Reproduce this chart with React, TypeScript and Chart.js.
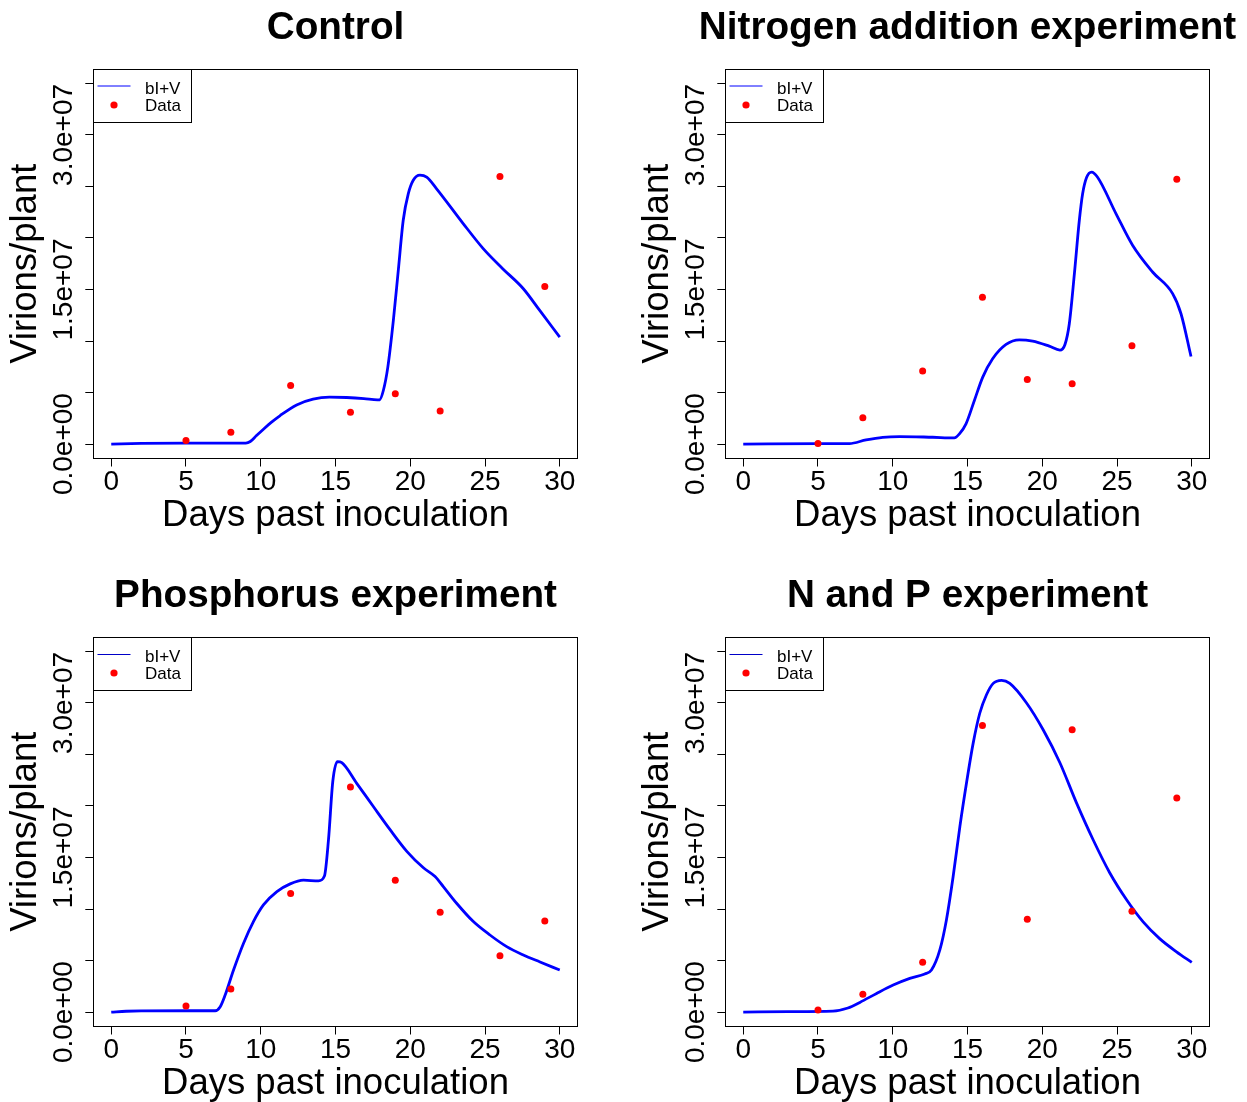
import React, { useEffect, useRef } from 'react';
import { Chart, registerables } from 'chart.js';

Chart.register(...registerables);

// ---- shared axis data ----
const dataDays = [5, 8, 12, 16, 19, 22, 26, 29];
const xTicks = [0, 5, 10, 15, 20, 25, 30];
const yTicks = [0, 5e6, 1e7, 1.5e7, 2e7, 2.5e7, 3e7, 3.5e7];
const yLabelValues = [0, 1.5e7, 3e7];
const yLabelTexts = ['0.0e+00', '1.5e+07', '3.0e+07'];
const panelTitles = ['Control', 'Nitrogen addition experiment', 'Phosphorus experiment', 'N and P experiment'];
const legendLabels = ['bI+V', 'Data'];
const xAxisTitle = 'Days past inoculation';
const yAxisTitle = 'Virions/plant';

// ---- Control (millions) ----
const controlModelX = [0, 2, 5, 8, 9, 9.3, 9.7, 10.2, 10.7, 11.3, 12.4, 13.5, 14.6, 15.75, 16.9, 17.8, 17.95, 18.2, 18.5, 18.87, 19.2, 19.53, 19.87, 20.2, 20.65, 21.1, 21.75, 23.54, 24.88, 26.2, 27.55, 28.66, 30];
const controlModelY = [0, 0.06, 0.1, 0.1, 0.1, 0.25, 0.8, 1.47, 2.1, 2.77, 3.8, 4.36, 4.55, 4.52, 4.42, 4.29, 4.3, 5.2, 7.47, 12.0, 16.86, 21.72, 24.3, 25.6, 26.1, 25.9, 24.8, 21.4, 18.97, 17.0, 15.1, 12.97, 10.38];
const controlData = [0.34, 1.15, 5.69, 3.09, 4.88, 3.22, 25.97, 15.3];

// ---- Nitrogen addition (millions) ----
const nitrogenModelX = [0, 5, 7.1, 8.22, 9.33, 10.45, 12.67, 14.12, 14.46, 14.9, 15.46, 16.02, 16.68, 17.58, 18.47, 19.36, 20.47, 21.18, 21.52, 21.81, 22.15, 22.48, 22.7, 22.97, 23.3, 23.7, 24.93, 26.04, 27.38, 28.72, 29.28, 29.95];
const nitrogenModelY = [0, 0.05, 0.05, 0.41, 0.66, 0.73, 0.66, 0.6, 0.99, 1.96, 4.23, 6.5, 8.28, 9.67, 10.12, 9.99, 9.5, 9.12, 9.67, 11.68, 16.54, 21.72, 24.3, 25.9, 26.4, 25.9, 22.37, 19.3, 16.7, 14.6, 12.65, 8.5];
const nitrogenData = [0.05, 2.55, 7.08, 14.24, 6.27, 5.85, 9.54, 25.7];

// ---- Phosphorus (millions) ----
const phosphorusModelX = [0, 1, 2, 5.3, 6.95, 7.29, 7.62, 8.18, 8.85, 9.51, 10.18, 11.08, 11.97, 12.86, 13.86, 14.26, 14.53, 14.82, 15.13, 15.42, 16.42, 17.53, 18.65, 19.77, 20.88, 21.66, 22.21, 23.1, 24.22, 25.33, 26.45, 27.56, 28.68, 30];
const phosphorusModelY = [0, 0.08, 0.12, 0.13, 0.13, 0.52, 1.65, 4.08, 6.68, 8.78, 10.4, 11.69, 12.44, 12.8, 12.73, 13.2, 16.7, 22.4, 24.3, 24.2, 22.2, 19.95, 17.7, 15.6, 14.0, 13.15, 12.18, 10.56, 8.78, 7.48, 6.35, 5.54, 4.86, 4.08];
const phosphorusData = [0.58, 2.24, 11.5, 21.84, 12.8, 9.69, 5.47, 8.84];

// ---- N and P (millions) ----
const npModelX = [0, 3, 6, 7.0, 7.8, 8.92, 10.03, 11.14, 12.14, 12.59, 13.15, 13.59, 14.04, 14.49, 14.93, 15.38, 15.82, 16.27, 16.72, 17.28, 17.83, 18.95, 20.06, 21.18, 22.29, 23.41, 24.52, 25.64, 26.75, 27.87, 28.98, 30];
const npModelY = [0, 0.05, 0.1, 0.4, 0.94, 1.81, 2.62, 3.27, 3.69, 4.08, 6.03, 8.94, 13.15, 18.0, 22.2, 26.1, 29.0, 30.8, 31.9, 32.2, 31.9, 30.0, 27.4, 24.2, 20.3, 16.7, 13.5, 10.9, 8.75, 7.1, 5.85, 4.83];
const npData = [0.19, 1.72, 4.83, 27.8, 9.0, 27.4, 9.79, 20.77];

const FONT = '"Liberation Sans", Arial, Helvetica, sans-serif';
const CW = 615;
const CH = 534;

type PanelProps = {
  title: string;
  modelX: number[];
  modelY: number[];
  dataY: number[];
  left: number;
  top: number;
  crispLegend: boolean;
};

function Panel({ title, modelX, modelY, dataY, left, top, crispLegend }: PanelProps) {
  const ref = useRef<HTMLCanvasElement | null>(null);

  useEffect(() => {
    const canvas = ref.current;
    if (!canvas) return;

    const decorPlugin = {
      id: 'rDecor',
      afterDraw(chart: any) {
        const ctx = chart.ctx as CanvasRenderingContext2D;
        const ca = chart.chartArea;
        const xs = chart.scales.x;
        const ys = chart.scales.y;
        ctx.save();
        // frame
        const bl = Math.floor(ca.left) + 0.5;
        const br = Math.floor(ca.right) + 0.5;
        const bt = Math.floor(ca.top) + 0.5;
        const bb = Math.floor(ca.bottom) + 0.5;
        ctx.strokeStyle = '#000';
        ctx.lineWidth = 1;
        ctx.strokeRect(bl, bt, br - bl, bb - bt);

        ctx.fillStyle = '#000';
        // title
        ctx.font = `bold 38.7px ${FONT}`;
        ctx.textAlign = 'center';
        ctx.textBaseline = 'alphabetic';
        const cx = (ca.left + ca.right) / 2;
        ctx.fillText(title, cx, 39);

        // x tick labels
        ctx.font = `28px ${FONT}`;
        xs.ticks.forEach((t: any) => {
          ctx.fillText(String(t.value), xs.getPixelForValue(t.value), 490);
        });
        // x axis title
        ctx.font = `36.5px ${FONT}`;
        ctx.fillText(xAxisTitle, cx, 526);

        // y tick labels (rotated)
        ctx.font = `28px ${FONT}`;
        yLabelValues.forEach((v, i) => {
          ctx.save();
          ctx.translate(72, ys.getPixelForValue(v));
          ctx.rotate(-Math.PI / 2);
          ctx.fillText(yLabelTexts[i], 0, 0);
          ctx.restore();
        });
        // y axis title
        ctx.save();
        ctx.font = `36.5px ${FONT}`;
        ctx.translate(36, (ca.top + ca.bottom) / 2);
        ctx.rotate(-Math.PI / 2);
        ctx.fillText(yAxisTitle, 0, 0);
        ctx.restore();

        // legend
        const lx = bl;
        const ly = bt;
        ctx.fillStyle = '#fff';
        ctx.fillRect(lx, ly, 98, 53);
        ctx.strokeStyle = '#000';
        ctx.strokeRect(lx, ly, 98, 53);
        ctx.strokeStyle = crispLegend ? '#0000c8' : '#0000ff';
        ctx.lineWidth = 1;
        const lineY = crispLegend ? ly + 17 : ly + 16.5;
        ctx.beginPath();
        ctx.moveTo(lx + 4, lineY);
        ctx.lineTo(lx + 37, lineY);
        ctx.stroke();
        ctx.fillStyle = '#ff0000';
        ctx.beginPath();
        ctx.arc(lx + 20.5, ly + 35.5, 3.6, 0, Math.PI * 2);
        ctx.fill();
        ctx.fillStyle = '#000';
        ctx.font = `17px ${FONT}`;
        ctx.textAlign = 'left';
        ctx.fillText(legendLabels[0], lx + 51.5, ly + 24);
        ctx.fillText(legendLabels[1], lx + 51.5, ly + 41.7);
        ctx.restore();
      },
    };

    const gridOpts = {
      drawOnChartArea: false,
      drawTicks: true,
      tickLength: 8,
      color: '#000',
      lineWidth: 1,
    };

    const chart = new Chart(canvas, {
      type: 'scatter',
      data: {
        datasets: [
          {
            type: 'line',
            label: legendLabels[0],
            data: modelX.map((x, i) => ({ x, y: modelY[i] * 1e6 })),
            borderColor: '#0000ff',
            backgroundColor: '#0000ff',
            borderWidth: 2.8,
            pointRadius: 0,
            showLine: true,
            fill: false,
            cubicInterpolationMode: 'monotone',
            order: 2,
          } as any,
          {
            type: 'scatter',
            label: legendLabels[1],
            data: dataDays.map((x, i) => ({ x, y: dataY[i] * 1e6 })),
            backgroundColor: '#ff0000',
            borderColor: '#ff0000',
            borderWidth: 0,
            pointRadius: 3.5,
            order: 1,
          } as any,
        ],
      },
      options: {
        responsive: false,
        animation: false,
        devicePixelRatio: 1,
        layout: { padding: { left: 0, top: 69, right: 37.3, bottom: 0 } },
        plugins: {
          legend: { display: false },
          tooltip: { enabled: false },
          title: { display: false },
        },
        scales: {
          x: {
            type: 'linear',
            min: -1.2,
            max: 31.2,
            afterBuildTicks: (s: any) => {
              s.ticks = xTicks.map((v) => ({ value: v }));
            },
            afterFit: (s: any) => {
              s.height = 75.5;
            },
            ticks: { display: false },
            grid: gridOpts,
            border: { display: false },
          },
          y: {
            type: 'linear',
            min: -1.4e6,
            max: 3.64e7,
            afterBuildTicks: (s: any) => {
              s.ticks = yTicks.map((v) => ({ value: v }));
            },
            afterFit: (s: any) => {
              s.width = 93.3;
            },
            ticks: { display: false },
            grid: gridOpts,
            border: { display: false },
          },
        },
      } as any,
      plugins: [decorPlugin],
    });

    return () => chart.destroy();
  }, [title, modelX, modelY, dataY, crispLegend]);

  return (
    <canvas
      ref={ref}
      width={CW}
      height={CH}
      style={{ position: 'absolute', left, top, width: CW, height: CH, display: 'block' }}
    />
  );
}

export default function App() {
  return (
    <div style={{ position: 'absolute', left: 0, top: 0, width: 1247, height: 1102, background: '#fff', overflow: 'hidden' }}>
      <Panel title={panelTitles[0]} modelX={controlModelX} modelY={controlModelY} dataY={controlData} left={0} top={0} crispLegend={false} />
      <Panel title={panelTitles[1]} modelX={nitrogenModelX} modelY={nitrogenModelY} dataY={nitrogenData} left={632} top={0} crispLegend={false} />
      <Panel title={panelTitles[2]} modelX={phosphorusModelX} modelY={phosphorusModelY} dataY={phosphorusData} left={0} top={568} crispLegend={true} />
      <Panel title={panelTitles[3]} modelX={npModelX} modelY={npModelY} dataY={npData} left={632} top={568} crispLegend={true} />
    </div>
  );
}
